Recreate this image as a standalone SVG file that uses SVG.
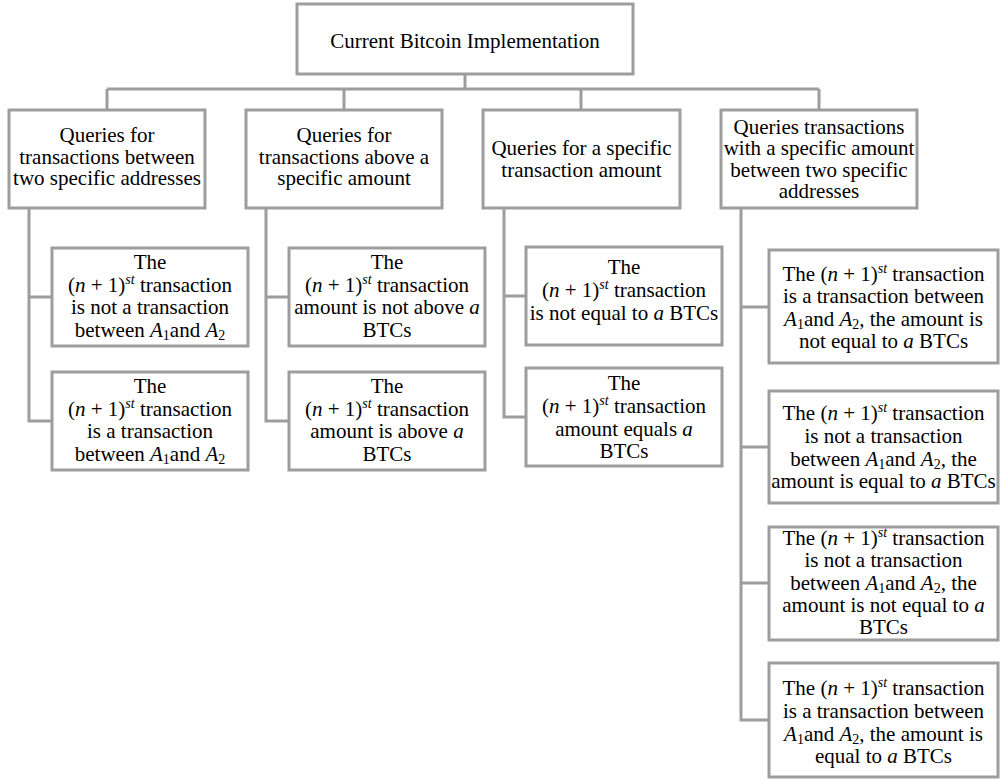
<svg xmlns="http://www.w3.org/2000/svg" width="1000" height="779" viewBox="0 0 1000 779">
<style>
rect{fill:#fff;stroke:#9d9d9d;stroke-width:3}
.c path{fill:none;stroke:#9d9d9d;stroke-width:3}
text{font-family:"Liberation Serif","Times New Roman",serif;font-size:21px;fill:#000;text-anchor:middle}
.i{font-style:italic}
.s{font-size:14px;font-style:italic}
.b{font-size:14px}
</style>
<rect width="1000" height="779" style="fill:#fff;stroke:none"/>
<g class="c" id="connectors">
<path d="M465 74V89M107 89H819M107 89V110M344 89V110M581 89V110M819 89V110"/>
<path d="M29 208V421H52M29 297H52"/>
<path d="M266 208V421H289M266 297H289"/>
<path d="M504 208V417H526M504 296H526"/>
<path d="M741 208V720H769M741 307H769M741 447H769M741 583H769"/>
</g>
<g id="root"><rect x="297" y="4" width="336" height="70"/><text x="465" y="48">Current Bitcoin Implementation</text></g>
<g id="q1"><rect x="9" y="110" width="196" height="98"/>
<text x="107" y="142">Queries for</text><text x="107" y="164">transactions between</text><text x="107" y="185">two specific addresses</text></g>
<g id="q2"><rect x="246" y="110" width="196" height="98"/>
<text x="344" y="142">Queries for</text><text x="344" y="164">transactions above a</text><text x="344" y="185">specific amount</text></g>
<g id="q3"><rect x="483" y="110" width="197" height="98"/>
<text x="581.5" y="155">Queries for a specific</text><text x="581.5" y="177">transaction amount</text></g>
<g id="q4"><rect x="721" y="110" width="196" height="98"/>
<text x="819" y="134">Queries transactions</text><text x="819" y="155">with a specific amount</text><text x="819" y="177">between two specific</text><text x="819" y="198">addresses</text></g>

<g id="a1"><rect x="52" y="248" width="196" height="98"/>
<text x="150" y="269">The</text>
<text x="150" y="292">(<tspan class="i">n</tspan> + 1)<tspan class="s" dy="-8">st</tspan><tspan dy="8"> transaction</tspan></text>
<text x="150" y="314">is not a transaction</text>
<text x="150" y="337">between <tspan class="i">A</tspan><tspan class="b" dy="3">1</tspan><tspan dy="-3">and </tspan><tspan class="i">A</tspan><tspan class="b" dy="3">2</tspan></text></g>
<g id="a2"><rect x="52" y="372" width="196" height="98"/>
<text x="150" y="393">The</text>
<text x="150" y="416">(<tspan class="i">n</tspan> + 1)<tspan class="s" dy="-8">st</tspan><tspan dy="8"> transaction</tspan></text>
<text x="150" y="438">is a transaction</text>
<text x="150" y="461">between <tspan class="i">A</tspan><tspan class="b" dy="3">1</tspan><tspan dy="-3">and </tspan><tspan class="i">A</tspan><tspan class="b" dy="3">2</tspan></text></g>

<g id="b1"><rect x="289" y="248" width="196" height="98"/>
<text x="387" y="269">The</text>
<text x="387" y="292">(<tspan class="i">n</tspan> + 1)<tspan class="s" dy="-8">st</tspan><tspan dy="8"> transaction</tspan></text>
<text x="387" y="314">amount is not above <tspan class="i">a</tspan></text>
<text x="387" y="337">BTCs</text></g>
<g id="b2"><rect x="289" y="372" width="196" height="98"/>
<text x="387" y="393">The</text>
<text x="387" y="416">(<tspan class="i">n</tspan> + 1)<tspan class="s" dy="-8">st</tspan><tspan dy="8"> transaction</tspan></text>
<text x="387" y="438">amount is above <tspan class="i">a</tspan></text>
<text x="387" y="461">BTCs</text></g>

<g id="c1"><rect x="526" y="247" width="196" height="98"/>
<text x="624" y="274">The</text>
<text x="624" y="297">(<tspan class="i">n</tspan> + 1)<tspan class="s" dy="-8">st</tspan><tspan dy="8"> transaction</tspan></text>
<text x="624" y="320">is not equal to <tspan class="i">a</tspan> BTCs</text></g>
<g id="c2"><rect x="526" y="368" width="196" height="98"/>
<text x="624" y="390">The</text>
<text x="624" y="413">(<tspan class="i">n</tspan> + 1)<tspan class="s" dy="-8">st</tspan><tspan dy="8"> transaction</tspan></text>
<text x="624" y="436">amount equals <tspan class="i">a</tspan></text>
<text x="624" y="458">BTCs</text></g>

<g id="d1"><rect x="769" y="250" width="229" height="113"/>
<text x="883.5" y="281">The (<tspan class="i">n</tspan> + 1)<tspan class="s" dy="-8">st</tspan><tspan dy="8"> transaction</tspan></text>
<text x="883.5" y="303">is a transaction between</text>
<text x="883.5" y="326"><tspan class="i">A</tspan><tspan class="b" dy="3">1</tspan><tspan dy="-3">and </tspan><tspan class="i">A</tspan><tspan class="b" dy="3">2</tspan><tspan dy="-3">,  the amount is</tspan></text>
<text x="883.5" y="348">not equal to <tspan class="i">a</tspan> BTCs</text></g>
<g id="d2"><rect x="769" y="391" width="229" height="112"/>
<text x="883.5" y="420">The (<tspan class="i">n</tspan> + 1)<tspan class="s" dy="-8">st</tspan><tspan dy="8"> transaction</tspan></text>
<text x="883.5" y="443">is not a transaction</text>
<text x="883.5" y="466">between <tspan class="i">A</tspan><tspan class="b" dy="3">1</tspan><tspan dy="-3">and </tspan><tspan class="i">A</tspan><tspan class="b" dy="3">2</tspan><tspan dy="-3">, the</tspan></text>
<text x="883.5" y="488">amount is equal to <tspan class="i">a</tspan> BTCs</text></g>
<g id="d3"><rect x="769" y="527" width="229" height="113"/>
<text x="883.5" y="545">The (<tspan class="i">n</tspan> + 1)<tspan class="s" dy="-8">st</tspan><tspan dy="8"> transaction</tspan></text>
<text x="883.5" y="567">is not a transaction</text>
<text x="883.5" y="590">between <tspan class="i">A</tspan><tspan class="b" dy="3">1</tspan><tspan dy="-3">and </tspan><tspan class="i">A</tspan><tspan class="b" dy="3">2</tspan><tspan dy="-3">, the</tspan></text>
<text x="883.5" y="612">amount is not equal to <tspan class="i">a</tspan></text>
<text x="883.5" y="634">BTCs</text></g>
<g id="d4"><rect x="769" y="663" width="229" height="114"/>
<text x="883.5" y="695">The (<tspan class="i">n</tspan> + 1)<tspan class="s" dy="-8">st</tspan><tspan dy="8"> transaction</tspan></text>
<text x="883.5" y="718">is a transaction between</text>
<text x="883.5" y="741"><tspan class="i">A</tspan><tspan class="b" dy="3">1</tspan><tspan dy="-3">and </tspan><tspan class="i">A</tspan><tspan class="b" dy="3">2</tspan><tspan dy="-3">, the amount is</tspan></text>
<text x="883.5" y="763">equal to <tspan class="i">a</tspan> BTCs</text></g>
</svg>
